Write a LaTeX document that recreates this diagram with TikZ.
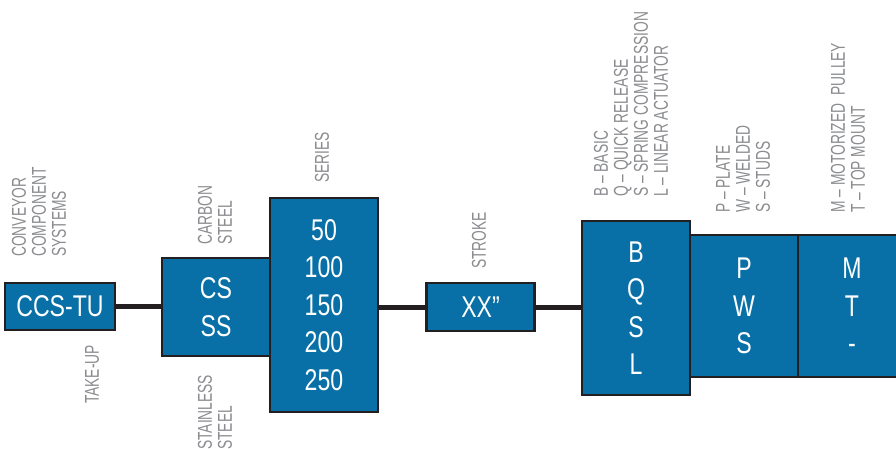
\documentclass[tikz,border=0pt]{standalone}
\usepackage{fontspec}
\setmainfont{Liberation Sans}[FakeStretch=0.77]
\newfontfamily\tagfont{Liberation Sans}[FakeStretch=0.69]
\definecolor{boxblue}{HTML}{0870A6}
\definecolor{linedark}{HTML}{231F20}
\definecolor{labelgray}{HTML}{8A8C8F}
\tikzset{
  codebox/.style={draw=linedark, line width=2.5pt, fill=boxblue, text=white,
    font=\fontsize{30}{37.5}\selectfont, align=center, inner sep=0pt, outer sep=0pt},
  tag/.style={text=labelgray, font=\tagfont\fontsize{20}{20}\selectfont, align=left,
    rotate=90, inner sep=0pt},
  link/.style={draw=linedark, line width=5pt}
}
\begin{document}
\begin{tikzpicture}[x=1pt, y=-1pt]
    \path[use as bounding box] (0, 0) rectangle (896, 448);

    % Code boxes (left to right)
    \node[codebox, minimum width=110, minimum height=47] (ccs) at (60, 306.5) {CCS-TU};
    \node[codebox, minimum width=108, minimum height=98] (cs) at (216, 307) {CS\\SS};
    \node[codebox, minimum width=108, minimum height=214] (series) at (324, 305) {50\\100\\150\\200\\250};
    \node[codebox, minimum width=108, minimum height=48] (stroke) at (480.5, 307) {XX”};
    \node[codebox, minimum width=108, minimum height=174] (style) at (636, 308) {B\\Q\\S\\L};
    \node[codebox, minimum width=108, minimum height=142] (mount) at (744, 306) {P\\W\\S};
    \node[codebox, minimum width=108, minimum height=142] (drive) at (852, 306) {M\\T\\-};

    % Connectors
    \draw[link] (ccs.east) -- (ccs.east -| cs.west);
    \draw[link] (stroke.west -| series.east) -- (stroke.west);
    \draw[link] (stroke.east) -- (stroke.east -| style.west);

    % Labels above the boxes
    \node[tag, anchor=west] (ccstag) at (39, 257) {CONVEYOR\\COMPONENT\\SYSTEMS};
    \node[tag, anchor=west] (cstag) at (215, 245) {CARBON\\STEEL};
    \node[tag, anchor=west] (seriestag) at (322, 183) {SERIES};
    \node[tag, anchor=west] (stroketag) at (479, 269) {STROKE};
    \node[tag, anchor=west] (styletag) at (631, 197) {B – BASIC\\Q – QUICK RELEASE\\S – SPRING COMPRESSION\\L – LINEAR ACTUATOR};
    \node[tag, anchor=west] (mounttag) at (743, 213) {P – PLATE\\W – WELDED\\S – STUDS};
    \node[tag, anchor=west] (drivetag) at (848, 213) {M – MOTORIZED\ \ PULLEY\\T – TOP MOUNT};

    % Labels below the boxes
    \node[tag, anchor=east] (tutag) at (92, 345) {TAKE-UP};
    \node[tag, anchor=west] (sstag) at (215, 450) {STAINLESS\\STEEL};
\end{tikzpicture}
\end{document}
